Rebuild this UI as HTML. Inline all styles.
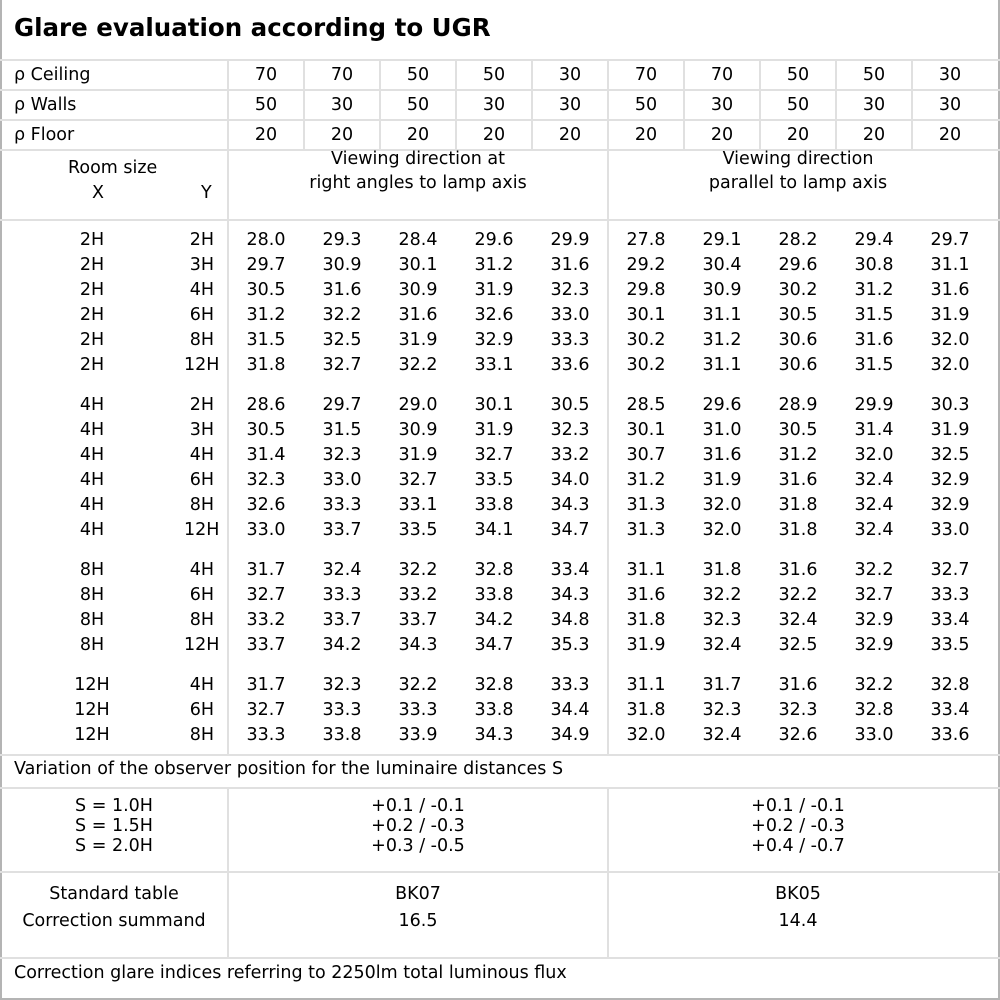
<!DOCTYPE html>
<html><head><meta charset="utf-8"><style>
*{margin:0;padding:0;box-sizing:border-box}
body{width:1000px;height:1000px;background:#fff;font-family:"DejaVu Sans","Liberation Sans",sans-serif;font-size:17.5px;color:#000;position:relative;overflow:hidden}
.frame{position:absolute;left:0;top:0;width:1000px;height:1000px;border:2px solid #b4b4b4;border-top:none}
.h{position:absolute;left:0;width:1000px;height:2px;background:#e0e0e0}
.v{position:absolute;width:2px;background:#e0e0e0}
.t{position:absolute;white-space:nowrap}
.r{position:absolute;left:0;height:25px;line-height:25px;display:flex;white-space:nowrap}
.r .x{width:184px;text-align:center}
.r .y{width:30px;text-align:right}
.r .p{width:14px}
.r b{font-weight:normal;width:76px;text-align:center}
.c{position:absolute;text-align:center;line-height:24px}
</style></head><body>
<div class="frame"></div>
<div class="t" style="left:14px;top:13px;font-size:24.5px;font-weight:bold">Glare evaluation according to UGR</div>
<div class="h" style="top:59px"></div>
<div class="h" style="top:89px"></div>
<div class="h" style="top:119px"></div>
<div class="h" style="top:149px"></div>
<div class="h" style="top:219px"></div>
<div class="h" style="top:754px"></div>
<div class="h" style="top:787px"></div>
<div class="h" style="top:871px"></div>
<div class="h" style="top:957px"></div>
<div class="v" style="left:227px;top:60px;height:695px"></div>
<div class="v" style="left:227px;top:788px;height:170px"></div>
<div class="v" style="left:607px;top:150px;height:605px"></div>
<div class="v" style="left:607px;top:788px;height:170px"></div>
<div class="v" style="left:303px;top:60px;height:90px"></div>
<div class="v" style="left:379px;top:60px;height:90px"></div>
<div class="v" style="left:455px;top:60px;height:90px"></div>
<div class="v" style="left:531px;top:60px;height:90px"></div>
<div class="v" style="left:607px;top:60px;height:90px"></div>
<div class="v" style="left:683px;top:60px;height:90px"></div>
<div class="v" style="left:759px;top:60px;height:90px"></div>
<div class="v" style="left:835px;top:60px;height:90px"></div>
<div class="v" style="left:911px;top:60px;height:90px"></div>

<div class="r" style="top:63px"><span style="width:228px;padding-left:14px">ρ Ceiling</span><b>70</b><b>70</b><b>50</b><b>50</b><b>30</b><b>70</b><b>70</b><b>50</b><b>50</b><b>30</b></div>
<div class="r" style="top:93px"><span style="width:228px;padding-left:14px">ρ Walls</span><b>50</b><b>30</b><b>50</b><b>30</b><b>30</b><b>50</b><b>30</b><b>50</b><b>30</b><b>30</b></div>
<div class="r" style="top:123px"><span style="width:228px;padding-left:14px">ρ Floor</span><b>20</b><b>20</b><b>20</b><b>20</b><b>20</b><b>20</b><b>20</b><b>20</b><b>20</b><b>20</b></div>

<div class="t" style="left:68px;top:158px">Room size</div>
<div class="t" style="left:92px;top:183px">X</div>
<div class="t" style="left:201px;top:183px">Y</div>
<div class="c" style="left:228px;width:380px;top:147px">Viewing direction at<br>right angles to lamp axis</div>
<div class="c" style="left:608px;width:380px;top:147px">Viewing direction<br>parallel to lamp axis</div>

<div class="r" style="top:228px"><span class="x">2H</span><span class="y">2H</span><span class="p"></span><b>28.0</b><b>29.3</b><b>28.4</b><b>29.6</b><b>29.9</b><b>27.8</b><b>29.1</b><b>28.2</b><b>29.4</b><b>29.7</b></div>
<div class="r" style="top:253px"><span class="x">2H</span><span class="y">3H</span><span class="p"></span><b>29.7</b><b>30.9</b><b>30.1</b><b>31.2</b><b>31.6</b><b>29.2</b><b>30.4</b><b>29.6</b><b>30.8</b><b>31.1</b></div>
<div class="r" style="top:278px"><span class="x">2H</span><span class="y">4H</span><span class="p"></span><b>30.5</b><b>31.6</b><b>30.9</b><b>31.9</b><b>32.3</b><b>29.8</b><b>30.9</b><b>30.2</b><b>31.2</b><b>31.6</b></div>
<div class="r" style="top:303px"><span class="x">2H</span><span class="y">6H</span><span class="p"></span><b>31.2</b><b>32.2</b><b>31.6</b><b>32.6</b><b>33.0</b><b>30.1</b><b>31.1</b><b>30.5</b><b>31.5</b><b>31.9</b></div>
<div class="r" style="top:328px"><span class="x">2H</span><span class="y">8H</span><span class="p"></span><b>31.5</b><b>32.5</b><b>31.9</b><b>32.9</b><b>33.3</b><b>30.2</b><b>31.2</b><b>30.6</b><b>31.6</b><b>32.0</b></div>
<div class="r" style="top:353px"><span class="x">2H</span><span class="y">12H</span><span class="p"></span><b>31.8</b><b>32.7</b><b>32.2</b><b>33.1</b><b>33.6</b><b>30.2</b><b>31.1</b><b>30.6</b><b>31.5</b><b>32.0</b></div>

<div class="r" style="top:393px"><span class="x">4H</span><span class="y">2H</span><span class="p"></span><b>28.6</b><b>29.7</b><b>29.0</b><b>30.1</b><b>30.5</b><b>28.5</b><b>29.6</b><b>28.9</b><b>29.9</b><b>30.3</b></div>
<div class="r" style="top:418px"><span class="x">4H</span><span class="y">3H</span><span class="p"></span><b>30.5</b><b>31.5</b><b>30.9</b><b>31.9</b><b>32.3</b><b>30.1</b><b>31.0</b><b>30.5</b><b>31.4</b><b>31.9</b></div>
<div class="r" style="top:443px"><span class="x">4H</span><span class="y">4H</span><span class="p"></span><b>31.4</b><b>32.3</b><b>31.9</b><b>32.7</b><b>33.2</b><b>30.7</b><b>31.6</b><b>31.2</b><b>32.0</b><b>32.5</b></div>
<div class="r" style="top:468px"><span class="x">4H</span><span class="y">6H</span><span class="p"></span><b>32.3</b><b>33.0</b><b>32.7</b><b>33.5</b><b>34.0</b><b>31.2</b><b>31.9</b><b>31.6</b><b>32.4</b><b>32.9</b></div>
<div class="r" style="top:493px"><span class="x">4H</span><span class="y">8H</span><span class="p"></span><b>32.6</b><b>33.3</b><b>33.1</b><b>33.8</b><b>34.3</b><b>31.3</b><b>32.0</b><b>31.8</b><b>32.4</b><b>32.9</b></div>
<div class="r" style="top:518px"><span class="x">4H</span><span class="y">12H</span><span class="p"></span><b>33.0</b><b>33.7</b><b>33.5</b><b>34.1</b><b>34.7</b><b>31.3</b><b>32.0</b><b>31.8</b><b>32.4</b><b>33.0</b></div>

<div class="r" style="top:558px"><span class="x">8H</span><span class="y">4H</span><span class="p"></span><b>31.7</b><b>32.4</b><b>32.2</b><b>32.8</b><b>33.4</b><b>31.1</b><b>31.8</b><b>31.6</b><b>32.2</b><b>32.7</b></div>
<div class="r" style="top:583px"><span class="x">8H</span><span class="y">6H</span><span class="p"></span><b>32.7</b><b>33.3</b><b>33.2</b><b>33.8</b><b>34.3</b><b>31.6</b><b>32.2</b><b>32.2</b><b>32.7</b><b>33.3</b></div>
<div class="r" style="top:608px"><span class="x">8H</span><span class="y">8H</span><span class="p"></span><b>33.2</b><b>33.7</b><b>33.7</b><b>34.2</b><b>34.8</b><b>31.8</b><b>32.3</b><b>32.4</b><b>32.9</b><b>33.4</b></div>
<div class="r" style="top:633px"><span class="x">8H</span><span class="y">12H</span><span class="p"></span><b>33.7</b><b>34.2</b><b>34.3</b><b>34.7</b><b>35.3</b><b>31.9</b><b>32.4</b><b>32.5</b><b>32.9</b><b>33.5</b></div>

<div class="r" style="top:673px"><span class="x">12H</span><span class="y">4H</span><span class="p"></span><b>31.7</b><b>32.3</b><b>32.2</b><b>32.8</b><b>33.3</b><b>31.1</b><b>31.7</b><b>31.6</b><b>32.2</b><b>32.8</b></div>
<div class="r" style="top:698px"><span class="x">12H</span><span class="y">6H</span><span class="p"></span><b>32.7</b><b>33.3</b><b>33.3</b><b>33.8</b><b>34.4</b><b>31.8</b><b>32.3</b><b>32.3</b><b>32.8</b><b>33.4</b></div>
<div class="r" style="top:723px"><span class="x">12H</span><span class="y">8H</span><span class="p"></span><b>33.3</b><b>33.8</b><b>33.9</b><b>34.3</b><b>34.9</b><b>32.0</b><b>32.4</b><b>32.6</b><b>33.0</b><b>33.6</b></div>

<div class="t" style="left:14px;top:759px">Variation of the observer position for the luminaire distances S</div>
<div class="c" style="left:0;width:228px;top:796px;line-height:20px">S = 1.0H<br>S = 1.5H<br>S = 2.0H</div>
<div class="c" style="left:228px;width:380px;top:796px;line-height:20px">+0.1 / -0.1<br>+0.2 / -0.3<br>+0.3 / -0.5</div>
<div class="c" style="left:608px;width:380px;top:796px;line-height:20px">+0.1 / -0.1<br>+0.2 / -0.3<br>+0.4 / -0.7</div>
<div class="c" style="left:0;width:228px;top:881px;line-height:27px">Standard table<br>Correction summand</div>
<div class="c" style="left:228px;width:380px;top:881px;line-height:27px">BK07<br>16.5</div>
<div class="c" style="left:608px;width:380px;top:881px;line-height:27px">BK05<br>14.4</div>
<div class="t" style="left:14px;top:963px">Correction glare indices referring to 2250lm total luminous flux</div>
</body></html>
